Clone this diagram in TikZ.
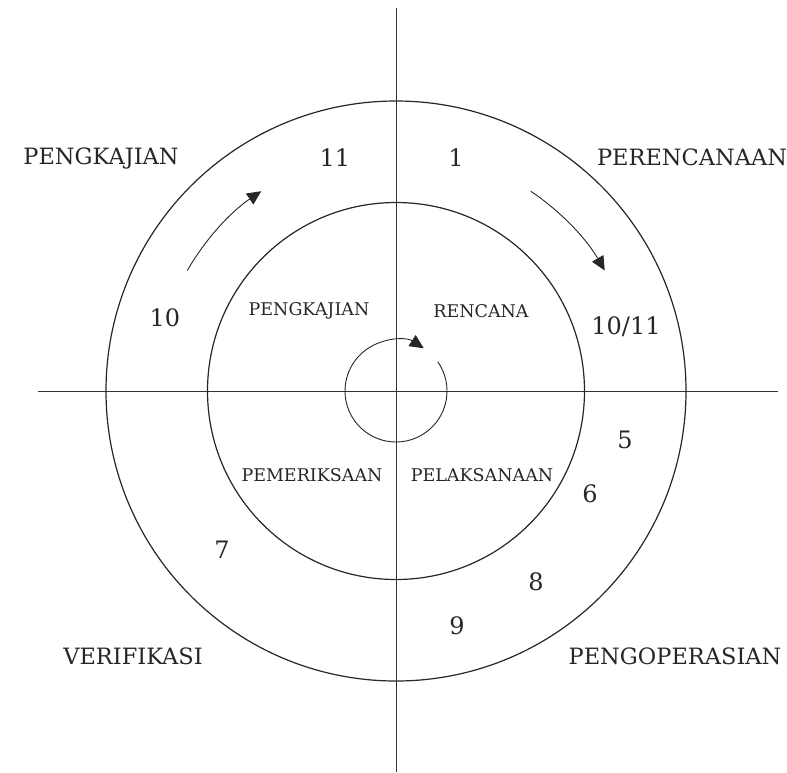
\documentclass[tikz,border=0pt]{standalone}
\usepackage{fontspec}
\setmainfont{DejaVu Serif}
\usetikzlibrary{arrows.meta}
\begin{document}
\begin{tikzpicture}[x=1pt,y=1pt,
  ring/.style={circle,draw=black!85,line width=1.2pt,inner sep=0pt},
  axis/.style={draw=black!80,line width=0.7pt},
  flow/.style={draw=black!85,line width=0.9pt,-{Triangle[length=14pt,width=13pt]}},
  big/.style={font=\fontsize{22.5}{26}\selectfont,text=black!85,inner sep=0pt},
  small/.style={font=\fontsize{17.5}{21}\selectfont,text=black!85,inner sep=0pt},
  num/.style={font=\fontsize{24}{28}\selectfont,text=black!85,inner sep=0pt}]
\useasboundingbox (0,0) rectangle (787,-772);
\coordinate (C) at (396,-391);
\node[ring,minimum size=580pt] (outer) at (C) {};
\node[ring,minimum size=377pt] (inner) at (C) {};
\coordinate (T) at (396,-8);
\coordinate (B) at (396,-772);
\coordinate (L) at (38,-391);
\coordinate (R) at (778,-391);
\draw[axis] (T) -- (B);
\draw[axis] (L) -- (R);
\draw[flow] ([shift={(150:241pt)}]C) arc[start angle=150,end angle=124,radius=241pt];
\draw[flow] ([shift={(56:241pt)}]C) arc[start angle=56,end angle=30,radius=241pt];
\draw[flow] ([shift={(35:51pt)}]C) arc[start angle=35,end angle=-303,radius=51pt];
% outer labels
\node[big] (pengkajianA) at (101,-158) {PENGKAJIAN};
\node[big] (perencanaan) at (692,-157) {PERENCANAAN};
\node[big] (verifikasi) at (133,-656) {VERIFIKASI};
\node[big] (pengoperasian) at (675,-656) {PENGOPERASIAN};
% inner labels
\node[small] (pengkajianB) at (309,-311) {PENGKAJIAN};
\node[small] (rencana) at (481,-311) {RENCANA};
\node[small] (pemeriksaan) at (312,-475) {PEMERIKSAAN};
\node[small] (pelaksanaan) at (482,-475) {PELAKSANAAN};
% numbers
\node[num] (n11) at (335,-158) {11};
\node[num] (n1) at (456,-158) {1};
\node[num] (n10) at (165,-318) {10};
\node[num] (n1011) at (626,-327) {10/11};
\node[num] (n5) at (625,-440) {5};
\node[num] (n6) at (590,-494) {6};
\node[num] (n7) at (222,-550) {7};
\node[num] (n8) at (536,-582) {8};
\node[num] (n9) at (457,-626) {9};
\end{tikzpicture}
\end{document}
